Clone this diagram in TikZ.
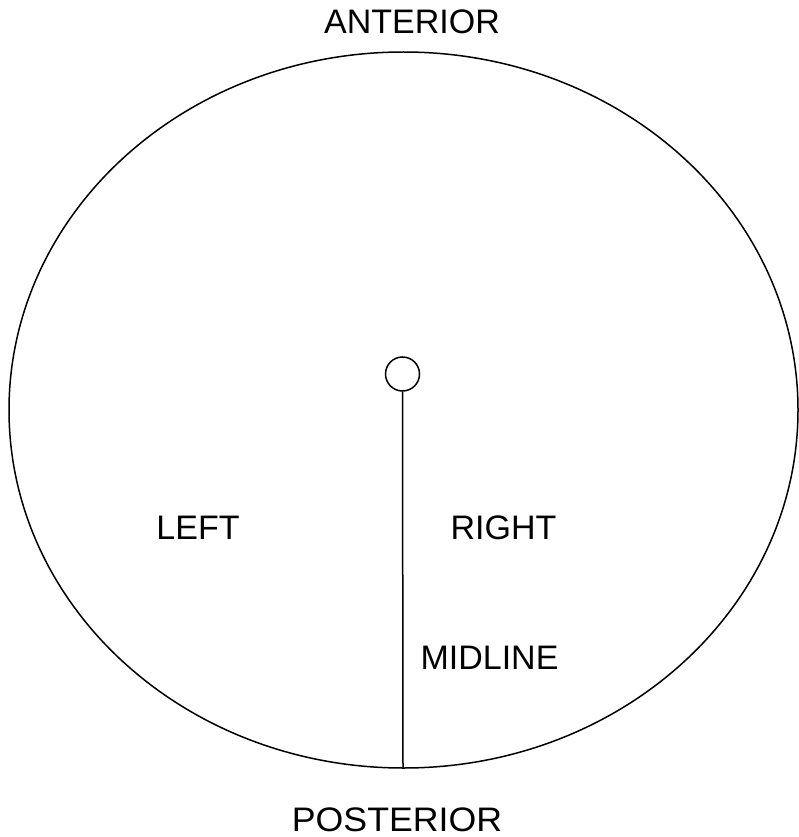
\documentclass[tikz,border=0pt]{standalone}
\usepackage{fontspec}
\setmainfont{Liberation Sans}
\usetikzlibrary{positioning}
\tikzset{
  axislabel/.style={inner sep=0pt, font=\fontsize{34}{40}\selectfont},
  hubnode/.style={circle, draw, line width=1.5pt, minimum size=34pt, inner sep=0pt},
  outline/.style={line width=1.5pt},
}

\begin{document}
\begin{tikzpicture}[x=1pt, y=-1pt]
  \useasboundingbox (0,0) rectangle (798,837);
  % head outline
  \draw[outline] (403.5,410) ellipse [x radius=394.5, y radius=358];
  \coordinate (back) at (403,768);
  \node[hubnode] (hub) at (402.5,374) {};
  \draw[outline] (hub.south) -- (back);
  % labels
  \node[axislabel] (ant) at (412,22) {ANTERIOR};
  \node[axislabel, xscale=1.05] (post) at (397,819.5) {POSTERIOR};
  \node[axislabel] (left) at (198,527.5) {LEFT};
  \node[axislabel] (right) at (503.5,527.5) {RIGHT};
  \node[axislabel] (mid) at (489.5,657.5) {MIDLINE};
\end{tikzpicture}
\end{document}
